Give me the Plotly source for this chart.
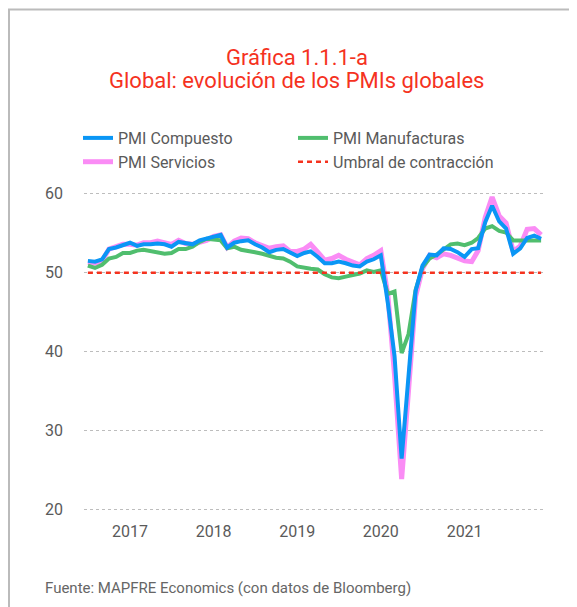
import pandas as pd
import plotly.graph_objects as go

months = pd.date_range("2016-07-01", periods=66, freq="MS")

pmi_compuesto = [
    51.5, 51.4, 51.7, 53.0, 53.2, 53.5,
    53.8, 53.4, 53.6, 53.6, 53.7, 53.6, 53.3, 53.9, 53.7, 53.6, 54.1, 54.3,
    54.5, 54.8, 53.2, 53.8, 54.0, 54.1, 53.6, 53.2, 52.6, 52.9, 53.0, 52.6,
    52.1, 52.5, 52.7, 52.0, 51.2, 51.2, 51.4, 51.2, 50.9, 50.8, 51.4, 51.7,
    52.2, 46.1, 39.4, 26.4, 36.3, 47.7, 50.9, 52.3, 52.2, 53.1, 53.0, 52.6,
    52.0, 53.0, 53.1, 56.4, 58.5, 56.5, 55.6, 52.4, 53.1, 54.4, 54.7, 54.3,
]

pmi_servicios = [
    51.3, 51.2, 51.5, 53.0, 53.3, 53.6,
    53.6, 53.5, 53.8, 53.8, 54.0, 53.8, 53.6, 54.1, 53.7, 53.6, 53.8, 54.1,
    54.6, 54.8, 53.2, 54.0, 54.4, 54.3, 53.8, 53.5, 53.1, 53.3, 53.4, 52.7,
    52.7, 53.0, 53.6, 52.6, 51.6, 51.8, 52.2, 51.7, 51.3, 51.0, 51.8, 52.2,
    52.8, 47.1, 37.0, 23.8, 35.0, 47.0, 50.5, 52.2, 51.9, 52.4, 52.2, 51.8,
    51.5, 51.4, 52.8, 57.0, 59.6, 57.2, 56.3, 52.7, 53.4, 55.5, 55.6, 54.8,
]

pmi_manufacturas = [
    50.9, 50.6, 51.0, 51.8, 52.0, 52.5,
    52.5, 52.8, 52.9, 52.7, 52.5, 52.4, 52.5, 53.0, 53.0, 53.3, 53.9, 54.3,
    54.2, 54.1, 53.1, 53.3, 52.9, 52.8, 52.6, 52.4, 52.1, 51.9, 51.8, 51.4,
    50.8, 50.6, 50.5, 50.4, 49.8, 49.4, 49.3, 49.5, 49.7, 49.9, 50.3, 50.1,
    50.3, 47.3, 47.6, 39.8, 42.2, 47.8, 50.7, 51.8, 52.3, 53.0, 53.6, 53.7,
    53.5, 53.8, 54.4, 55.6, 55.9, 55.3, 55.1, 54.1, 54.1, 54.2, 54.2, 54.1,
]

umbral = [50.0] * len(months)

year_ticks = ["2017-01-01", "2018-01-01", "2019-01-01", "2020-01-01", "2021-01-01"]
year_labels = ["2017", "2018", "2019", "2020", "2021"]
y_ticks = [20, 30, 40, 50, 60]

C_BLUE = "#0A96F5"
C_PINK = "#FA8CF5"
C_GREEN = "#50BE6E"
C_RED = "#F5321E"
TXT = "#5A5A5A"

fig = go.Figure()
fig.add_trace(go.Scatter(x=months, y=pmi_servicios, name="PMI Servicios", mode="lines",
                         line=dict(color=C_PINK, width=5), legendrank=3))
fig.add_trace(go.Scatter(x=months, y=pmi_manufacturas, name="PMI Manufacturas", mode="lines",
                         line=dict(color=C_GREEN, width=4), legendrank=2))
fig.add_trace(go.Scatter(x=months, y=umbral, name="Umbral de contracción", mode="lines",
                         line=dict(color=C_RED, width=2.5, dash="5px,4px"), legendrank=4))
fig.add_trace(go.Scatter(x=months, y=pmi_compuesto, name="PMI Compuesto", mode="lines",
                         line=dict(color=C_BLUE, width=4), legendrank=1))

# page body has an 8px margin; figure coordinates = window coordinates - 8
OFF = 8
W, H = 577 - OFF, 607 - OFF
L, R, T, B = 84 - OFF, 545 - OFF, 186 - OFF, 517 - OFF
pw, ph = R - L, B - T

def px(x):
    return (x - OFF - L) / pw

def py(y):
    return (B - (y - OFF)) / ph

fig.update_layout(
    width=W, height=H,
    margin=dict(l=L, r=W - R, t=T, b=H - B),
    paper_bgcolor="white", plot_bgcolor="white",
    font=dict(family="Roboto, Noto Sans, sans-serif", color=TXT, size=15),
    showlegend=True,
    legend=dict(orientation="h", x=px(78), xanchor="left", y=py(121), yanchor="top",
                entrywidth=170, entrywidthmode="pixels", itemwidth=30,
                font=dict(size=16, color=TXT), traceorder="normal",
                bgcolor="rgba(0,0,0,0)", tracegroupgap=0),
    xaxis=dict(type="date", range=["2016-06-14", "2021-12-18"],
               tickvals=year_ticks, ticktext=year_labels,
               showgrid=False, zeroline=False, showline=False, ticks="",
               ticklabelstandoff=3, tickfont=dict(size=16, color=TXT)),
    yaxis=dict(range=[19, 61], tickvals=y_ticks, showgrid=True,
               gridcolor="#BDBDBD", griddash="dot", gridwidth=1,
               zeroline=False, showline=False, ticks="", ticklabelstandoff=20,
               tickfont=dict(size=16, color=TXT)),
    shapes=[
        dict(type="line", xref="paper", yref="paper", x0=px(9), x1=px(9),
             y0=py(9.5), y1=py(640), line=dict(color="#BBBBBB", width=2)),
        dict(type="line", xref="paper", yref="paper", x0=px(8), x1=px(640),
             y0=py(9.5), y1=py(9.5), line=dict(color="#BBBBBB", width=2)),
    ],
    annotations=[
        dict(text="Gráfica 1.1.1-a", xref="paper", yref="paper", x=px(297), y=py(58),
             xanchor="center", yanchor="middle", showarrow=False,
             font=dict(size=22, color=C_RED)),
        dict(text="Global: evolución de los PMIs globales", xref="paper", yref="paper",
             x=px(296), y=py(80), xanchor="center", yanchor="middle", showarrow=False,
             font=dict(size=22, color=C_RED)),
        dict(text="Fuente: MAPFRE Economics (con datos de Bloomberg)", xref="paper",
             yref="paper", x=px(43), y=py(588), xanchor="left", yanchor="middle",
             showarrow=False, font=dict(size=15, color="#666666")),
    ],
)

fig.write_html("out.html")
